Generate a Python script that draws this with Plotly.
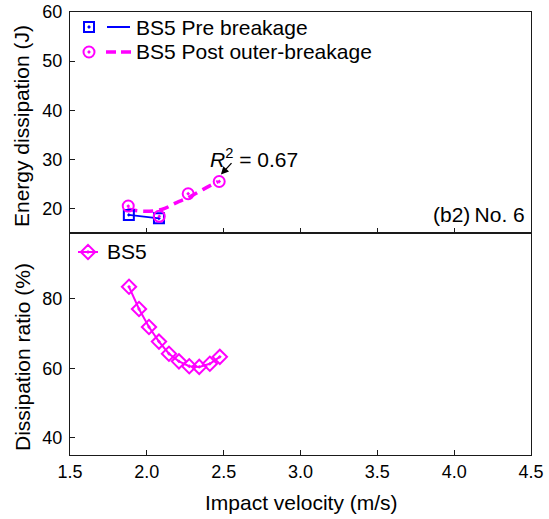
import plotly.graph_objects as go

# ---------------- data ----------------
pre_v = [1.883, 2.079]
pre_e = [18.7, 18.0]

post_v = [1.879, 2.081, 2.269, 2.471]
post_e = [20.5, 18.4, 23.0, 25.5]

fit_v = [1.873, 1.977, 2.096, 2.194, 2.269, 2.367, 2.464]
fit_e = [19.9, 19.45, 19.8, 21.2, 22.2, 23.9, 25.5]

ratio_v = [1.884, 1.949, 2.014, 2.079, 2.144, 2.209, 2.276, 2.341, 2.410, 2.475]
ratio_p = [83.5, 77.1, 71.9, 67.7, 64.2, 62.0, 60.6, 60.4, 61.3, 63.3]

x_ticks = [1.5, 2.0, 2.5, 3.0, 3.5, 4.0, 4.5]
x_ticktext = ["1.5", "2.0", "2.5", "3.0", "3.5", "4.0", "4.5"]
e_ticks = [20, 30, 40, 50, 60]
r_ticks = [40, 60, 80]

labels = {
    "pre": "BS5 Pre breakage",
    "post": "BS5 Post outer-breakage",
    "ratio": "BS5",
    "panel": "(b2)\u2009No. 6",
    "r2": "<i>R</i><sup>2</sup> = 0.67",
    "ytop": "Energy dissipation (J)",
    "ybot": "Dissipation ratio (%)",
    "x": "Impact velocity (m/s)",
}

BLUE = "#0000FF"
MAG = "#FF00FF"
AX = "#1a1a1a"
FONT = "Liberation Sans, Arial, sans-serif"

W, H = 549, 519
ML, MR, MT, MB = 70, 18, 12, 64
PW, PH = W - ML - MR, H - MT - MB


def px(x):
    return (x - ML) / PW


def py(y):
    return (H - MB - y) / PH


fig = go.Figure()

# top panel
fig.add_trace(go.Scatter(x=fit_v, y=fit_e, xaxis="x2", yaxis="y2", mode="lines",
                         line=dict(color=MAG, width=3.5, dash="10px,6px", shape="spline"),
                         showlegend=False, hoverinfo="skip"))
fig.add_trace(go.Scatter(x=pre_v, y=pre_e, xaxis="x2", yaxis="y2", mode="lines+markers",
                         line=dict(color=BLUE, width=1.8),
                         marker=dict(symbol="square-dot", size=10, color="rgba(0,0,0,0)",
                                     line=dict(color=BLUE, width=2)),
                         name=labels["pre"], showlegend=False))
fig.add_trace(go.Scatter(x=post_v, y=post_e, xaxis="x2", yaxis="y2", mode="markers",
                         marker=dict(symbol="circle-dot", size=11, color="rgba(0,0,0,0)",
                                     line=dict(color=MAG, width=2)),
                         name=labels["post"], showlegend=False))

# bottom panel
fig.add_trace(go.Scatter(x=ratio_v, y=ratio_p, xaxis="x", yaxis="y", mode="lines+markers",
                         line=dict(color=MAG, width=2),
                         marker=dict(symbol="diamond-dot", size=11, color="rgba(0,0,0,0)",
                                     line=dict(color=MAG, width=2)),
                         name=labels["ratio"], showlegend=False))

# legend symbols on an invisible full-plot axis pair in paper-like units
leg_x = [px(89), px(89), px(88)]
leg_y = [py(27), py(52), py(252)]
leg_sym = ["square-dot", "circle-dot", "diamond-dot"]
leg_col = [BLUE, MAG, MAG]
leg_size = [10, 11, 11]
for lx, ly, s, c, sz in zip(leg_x, leg_y, leg_sym, leg_col, leg_size):
    fig.add_trace(go.Scatter(x=[lx], y=[ly], xaxis="x3", yaxis="y3", mode="markers",
                             marker=dict(symbol=s, size=sz, color="rgba(0,0,0,0)",
                                         line=dict(color=c, width=2)),
                             showlegend=False, hoverinfo="skip", cliponaxis=False))

shapes = [
    dict(type="line", xref="paper", yref="paper", x0=px(107), x1=px(130), y0=py(27), y1=py(27),
         line=dict(color=BLUE, width=2)),
    dict(type="line", xref="paper", yref="paper", x0=px(106), x1=px(131), y0=py(52), y1=py(52),
         line=dict(color=MAG, width=3.5, dash="10px,5px")),
    dict(type="line", xref="paper", yref="paper", x0=px(78), x1=px(98), y0=py(252), y1=py(252),
         line=dict(color=MAG, width=2)),
]

TS = 21
annotations = [
    dict(xref="paper", yref="paper", x=px(134), y=py(27), text=labels["pre"], showarrow=False,
         xanchor="left", yanchor="middle", font=dict(size=TS)),
    dict(xref="paper", yref="paper", x=px(134), y=py(52), text=labels["post"], showarrow=False,
         xanchor="left", yanchor="middle", font=dict(size=TS)),
    dict(xref="paper", yref="paper", x=px(105), y=py(252), text=labels["ratio"], showarrow=False,
         xanchor="left", yanchor="middle", font=dict(size=TS)),
    dict(xref="paper", yref="paper", x=px(527), y=py(215), text=labels["panel"], showarrow=False,
         xanchor="right", yanchor="middle", font=dict(size=TS)),
    dict(xref="x2", yref="y2", x=2.40, y=30.3, text=labels["r2"], showarrow=False,
         xanchor="left", yanchor="middle", font=dict(size=TS)),
    dict(xref="x2", yref="y2", x=2.482, y=26.9, text="", showarrow=True, ax=12, ay=-13,
         arrowhead=2, arrowsize=1.2, arrowwidth=1.3, arrowcolor="#000"),
    dict(xref="paper", yref="paper", x=px(22), y=py(126), text=labels["ytop"], showarrow=False,
         textangle=-90, xanchor="center", yanchor="middle", font=dict(size=TS)),
    dict(xref="paper", yref="paper", x=px(22), y=py(357), text=labels["ybot"], showarrow=False,
         textangle=-90, xanchor="center", yanchor="middle", font=dict(size=TS)),
    dict(xref="paper", yref="paper", x=px(301), y=py(502), text=labels["x"], showarrow=False,
         xanchor="center", yanchor="middle", font=dict(size=TS)),
]

axis_common = dict(showline=True, linecolor=AX, linewidth=1.2, mirror=True, ticks="inside",
                   ticklen=5, tickwidth=1.2, tickcolor=AX, showgrid=False, zeroline=False,
                   automargin=False, tickfont=dict(size=18, color="#000"))

fig.update_layout(
    width=W, height=H,
    margin=dict(l=ML, r=MR, t=MT, b=MB, autoexpand=False),
    paper_bgcolor="white", plot_bgcolor="rgba(0,0,0,0)",
    font=dict(family=FONT, color="#000"),
    showlegend=False,
    xaxis=dict(domain=[0, 1], anchor="y", range=[1.5, 4.5], tickvals=x_ticks,
               ticktext=x_ticktext, **axis_common),
    yaxis=dict(domain=[0, 0.501], anchor="x", range=[35, 99], tickvals=r_ticks,
               ticklabelstandoff=3, **axis_common),
    xaxis2=dict(domain=[0, 1], anchor="y2", range=[1.5, 4.5], tickvals=x_ticks,
                showticklabels=False, **axis_common),
    yaxis2=dict(domain=[0.501, 1], anchor="x2", range=[15, 60], tickvals=e_ticks,
                ticklabelstandoff=3, **axis_common),
    xaxis3=dict(domain=[0, 1], anchor="y3", range=[0, 1], visible=False, automargin=False),
    yaxis3=dict(domain=[0, 1], anchor="x3", range=[0, 1], visible=False, automargin=False),
    shapes=shapes,
    annotations=annotations,
)

fig.write_html("out.html", config={"displayModeBar": False},
               post_script="document.body.style.margin='0px';document.body.style.overflow='hidden';")
